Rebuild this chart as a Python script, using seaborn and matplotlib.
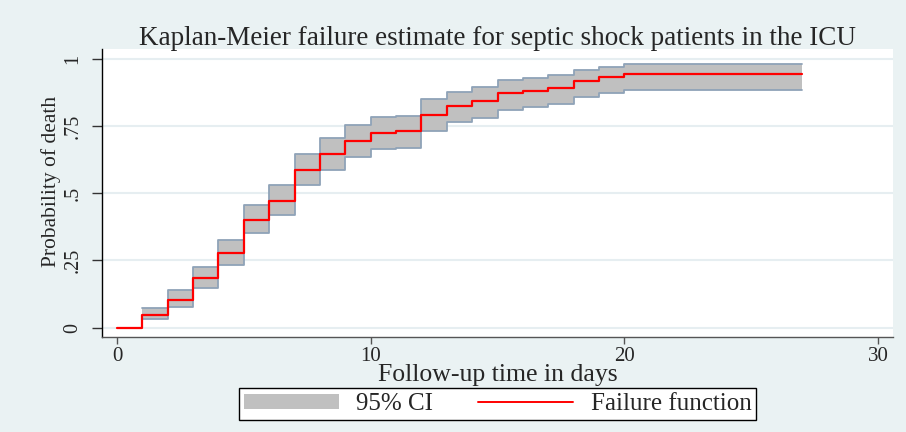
import numpy as np
import pandas as pd
import matplotlib
matplotlib.use("Agg")
import matplotlib.pyplot as plt
import seaborn as sns
from matplotlib.patches import Patch
from matplotlib.lines import Line2D

# Kaplan-Meier failure estimate
days = [0, 1, 2, 3, 4, 5, 6, 7, 8, 9, 10, 11, 12, 13, 14, 15, 16, 17, 18, 19, 20, 27]
failure = [0, 0.046, 0.104, 0.184, 0.277, 0.402, 0.473, 0.587, 0.648, 0.694, 0.725,
           0.731, 0.793, 0.825, 0.843, 0.872, 0.880, 0.893, 0.917, 0.932, 0.945, 0.945]
ci_lower = [np.nan, 0.031, 0.078, 0.148, 0.232, 0.351, 0.418, 0.529, 0.588, 0.634, 0.664,
            0.669, 0.733, 0.764, 0.780, 0.810, 0.820, 0.831, 0.857, 0.872, 0.886, 0.886]
ci_upper = [np.nan, 0.074, 0.140, 0.226, 0.326, 0.458, 0.532, 0.648, 0.707, 0.753, 0.782,
            0.788, 0.849, 0.877, 0.895, 0.922, 0.929, 0.940, 0.958, 0.970, 0.980, 0.980]

x_ticks = [0, 10, 20, 30]
y_ticks = [0, 0.25, 0.5, 0.75, 1]
y_tick_labels = ["0", ".25", ".5", ".75", "1"]

BG = "#eaf2f3"
BAND = "#c0c0c0"
BAND_EDGE = "#8fa3b8"

sns.set_style("white")
plt.rcParams["font.family"] = ["Liberation Serif", "DejaVu Serif"]

df = pd.DataFrame({"days": days, "failure": failure, "lo": ci_lower, "hi": ci_upper})
band = df.dropna()

fig = plt.figure(figsize=(9.06, 4.32), dpi=100, facecolor=BG)
ax = fig.add_axes([0.1126, 0.2199, 0.8731, 0.6667])
ax.set_facecolor("white")

# CI band
ax.fill_between(band["days"], band["lo"], band["hi"], step="post",
                facecolor=BAND, edgecolor="none", zorder=2)
ax.step(band["days"], band["hi"], where="post", color=BAND_EDGE, lw=1.3, zorder=3)
ax.step(band["days"], band["lo"], where="post", color=BAND_EDGE, lw=1.3, zorder=3)

# failure function
sns.lineplot(data=df, x="days", y="failure", estimator=None, drawstyle="steps-post",
             color="#ff0000", lw=1.6, ax=ax, zorder=4)

ax.set_xlim(-0.59, 30.59)
ax.set_ylim(-0.035, 1.037)
ax.set_xticks(x_ticks)
ax.set_yticks(y_ticks)
ax.set_yticklabels(y_tick_labels, rotation=90, va="center")
ax.tick_params(axis="x", direction="out", length=5, width=1, color="#555555",
               labelsize=15, pad=2, bottom=True)
ax.tick_params(axis="y", direction="out", length=7, width=1, color="#333333",
               labelsize=14.5, pad=7, left=True)
ax.grid(axis="y", color="#e6eef1", lw=1.5, zorder=0)
ax.grid(axis="x", visible=False)
for s in ["top", "right"]:
    ax.spines[s].set_visible(False)
ax.spines["left"].set_color("black")
ax.spines["bottom"].set_color("#555555")
ax.spines["left"].set_linewidth(1)
ax.spines["bottom"].set_linewidth(1)

ax.set_xlabel("Follow-up time in days", fontsize=18.5, labelpad=-1)
ax.set_ylabel("Probability of death", fontsize=15.5)
ax.yaxis.set_label_coords(-0.052, 0.54)
ax.set_title("Kaplan-Meier failure estimate for septic shock patients in the ICU",
             fontsize=19.5, pad=3)

handles = [Patch(facecolor=BAND, edgecolor="none"),
           Line2D([0], [0], color="#ff0000", lw=1.4)]
leg = fig.legend(handles, ["95% CI", "Failure function"], loc="center",
                 bbox_to_anchor=(0.549, 0.064), ncol=2, fontsize=18,
                 frameon=True, fancybox=False, edgecolor="black", framealpha=1,
                 handlelength=3.8, handleheight=0.55, handletextpad=0.7,
                 columnspacing=1.8, borderpad=0.2, borderaxespad=0)
leg.get_frame().set_linewidth(1)

fig.savefig("out.png", dpi=100, facecolor=BG)
